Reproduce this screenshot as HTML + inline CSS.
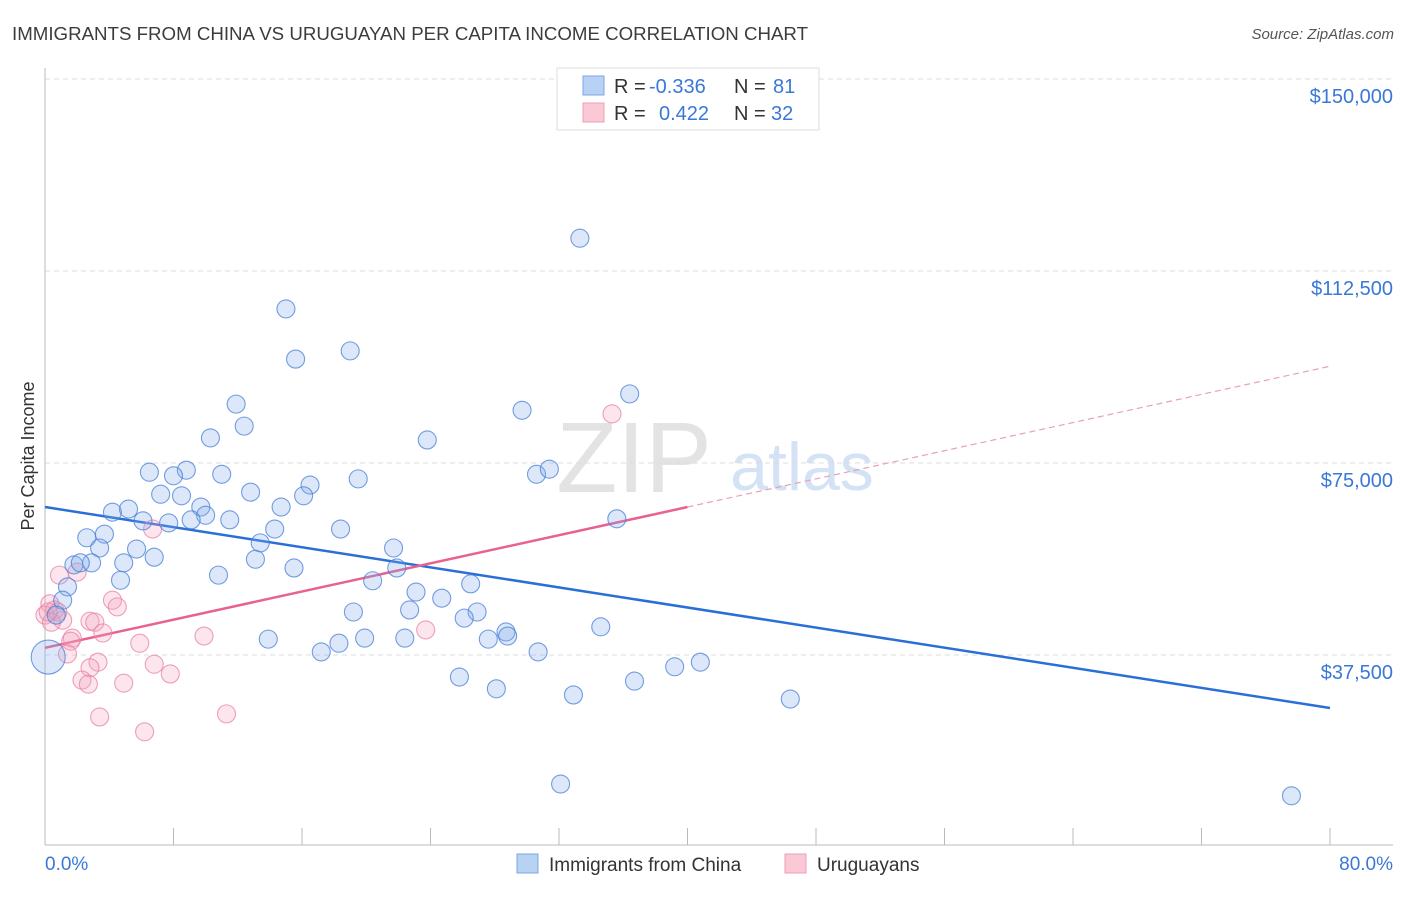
<!DOCTYPE html>
<html><head><meta charset="utf-8"><style>
body{margin:0;background:#fff;font-family:"Liberation Sans",sans-serif;}
svg text{font-family:"Liberation Sans",sans-serif;}
</style></head><body>
<svg id="chart" width="1406" height="892" xmlns="http://www.w3.org/2000/svg">
<text x="12" y="40" font-size="18" fill="#3c3c3c" textLength="796" lengthAdjust="spacingAndGlyphs">IMMIGRANTS FROM CHINA VS URUGUAYAN PER CAPITA INCOME CORRELATION CHART</text>
<text x="1394" y="39" font-size="15" fill="#555" font-style="italic" text-anchor="end">Source: ZipAtlas.com</text>
<text transform="translate(34,456) rotate(-90)" font-size="18" fill="#333" text-anchor="middle">Per Capita Income</text>
<g>
<text x="634" y="492" font-size="100" fill="#e3e3e3" font-family="Liberation Serif" text-anchor="middle">ZIP</text>
<text x="802" y="490" font-size="68" fill="#d3e2f5" text-anchor="middle">atlas</text>
</g>
<g id="grid"></g><g id="axes"></g><g id="trend"></g><g id="pts"></g>
<g>
<rect x="557" y="68" width="262" height="62" fill="#fff" stroke="#ddd"/>
<rect x="583" y="76" width="21" height="19" fill="#b8d2f4" stroke="#7aa7e6"/>
<rect x="583" y="103" width="21" height="19" fill="#fbc8d6" stroke="#ee9fb8"/>
<text x="614" y="93" font-size="20" fill="#333">R =</text>
<text x="649" y="93" font-size="20" fill="#3a78d8">-0.336</text>
<text x="734" y="93" font-size="20" fill="#333">N =</text>
<text x="773" y="93" font-size="20" fill="#3a78d8">81</text>
<text x="614" y="120" font-size="20" fill="#333">R =</text>
<text x="659" y="120" font-size="20" fill="#3a78d8">0.422</text>
<text x="734" y="120" font-size="20" fill="#333">N =</text>
<text x="771" y="120" font-size="20" fill="#3a78d8">32</text>
</g>
<g>
<rect x="517" y="854" width="21" height="19" fill="#b8d2f4" stroke="#7aa7e6"/>
<text x="549" y="871" font-size="19" fill="#333">Immigrants from China</text>
<rect x="785" y="854" width="21" height="19" fill="#fbc8d6" stroke="#ee9fb8"/>
<text x="817" y="871" font-size="19" fill="#333">Uruguayans</text>
</g>
</svg>
<script>
const yTicks=[37500,75000,112500,150000];
const yTickLabels=["$37,500","$75,000","$112,500","$150,000"];
const xTickLabels=["0.0%","80.0%"];
const chinaX=[33.3,15.0,15.6,19.0,36.4,11.9,29.7,10.3,12.4,23.8,6.5,8.8,8.0,11.0,19.5,30.6,31.4,16.5,7.2,8.5,12.8,16.1,9.7,10.0,14.7,4.2,5.2,6.1,7.7,9.1,11.5,18.4,14.3,35.6,2.6,3.7,13.4,3.4,5.7,6.8,21.7,13.1,1.8,2.9,2.2,4.9,15.5,21.9,10.8,4.7,20.4,26.5,1.4,23.1,24.7,1.1,19.2,22.7,26.9,26.1,34.6,28.7,13.9,18.3,19.9,22.4,27.6,28.8,17.2,30.7,40.8,39.2,25.8,36.7,28.1,32.9,46.4,32.1,77.6,0.7,0.2];
const chinaY=[118900,105100,95300,96900,88500,86500,85300,79900,82200,79500,73200,73600,72500,72800,71900,72800,73800,70700,68900,68600,69300,68600,66400,64800,66400,65400,66000,63700,63300,63900,63900,62100,62100,64100,60400,61100,59400,58400,58200,56600,58400,56200,55100,55500,55500,55500,54500,54500,53100,52100,52000,51400,50800,49800,48600,48200,45900,46300,45900,44700,43000,42000,40600,39800,40800,40800,40600,41200,38100,38100,36100,35200,33200,32400,30900,29700,28900,12300,10000,45300,37100];
const uruX=[35.3,6.7,0.9,2.0,0.3,0.6,0.0,1.1,0.4,4.2,4.5,2.8,3.1,3.6,1.7,1.6,5.9,9.9,23.7,1.4,3.3,2.8,6.8,7.8,2.3,2.7,4.9,3.4,11.3,6.2,0.8,0.2];
const uruY=[84600,62100,53100,53700,47500,46300,45300,44300,43900,48200,46900,44100,43900,41800,40800,40200,39800,41200,42400,37700,36100,35000,35700,33800,32600,31800,32000,25400,26000,22500,45900,45900];
const chinaTrend=[66400,27150];
const uruTrend=[38900,93900];
const uruSolidEnd=40;
const NS="http://www.w3.org/2000/svg";
const X0=45,X1=1330,YB=655,YPX=192;
const xs=v=>X0+v/80*(X1-X0);
const ys=v=>YB-(v-37500)/37500*YPX;
function mk(tag,attrs,parent){const e=document.createElementNS(NS,tag);for(const k in attrs)e.setAttribute(k,attrs[k]);parent.appendChild(e);return e;}
const grid=document.getElementById('grid'),axes=document.getElementById('axes'),trend=document.getElementById('trend'),pts=document.getElementById('pts');
yTicks.forEach((t,i)=>{
 const l=mk('line',{x1:45,x2:1393,y1:ys(t),y2:ys(t),stroke:'#dcdcdc','stroke-dasharray':'5,4'},grid);
 
 
 const tx=mk('text',{x:1393,y:ys(t)+24,'font-size':20,fill:'#3a78d8','text-anchor':'end'},grid);
 tx.textContent=yTickLabels[i];
 
 
});
const ya=mk('line',{x1:45,x2:45,y1:68,y2:845,stroke:'#bbb'},axes);


const xa=mk('line',{x1:45,x2:1393,y1:845,y2:845,stroke:'#bbb'},axes);


for(let i=1;i<=10;i++){
 const t=mk('line',{x1:xs(i*8),x2:xs(i*8),y1:828,y2:845,stroke:'#bbb'},axes);
 
 
}
const xl0=mk('text',{x:45,y:870,'font-size':19,fill:'#3a78d8'},axes);xl0.textContent=xTickLabels[0];


const xl1=mk('text',{x:1393,y:870,'font-size':19,fill:'#3a78d8','text-anchor':'end'},axes);xl1.textContent=xTickLabels[1];


function pt(x,y,r,fill,stroke,name){
 const c=mk('circle',{cx:xs(x),cy:ys(y),r:r,fill:fill,stroke:stroke,'stroke-width':1.1},pts);
 
 
}
uruX.forEach((x,i)=>pt(x,uruY[i],9,'rgba(246,160,188,0.28)','rgba(232,130,165,0.75)','point-uruguayans'));
chinaX.forEach((x,i)=>pt(x,chinaY[i],i===chinaX.length-1?17:9,'rgba(130,172,235,0.28)','rgba(70,125,215,0.75)','point-china'));
const ct=mk('line',{x1:xs(0),y1:ys(chinaTrend[0]),x2:xs(80),y2:ys(chinaTrend[1]),stroke:'#2a6fd8','stroke-width':2.5},trend);


const um=uruTrend[0]+(uruTrend[1]-uruTrend[0])*uruSolidEnd/80;
const ut=mk('line',{x1:xs(0),y1:ys(uruTrend[0]),x2:xs(uruSolidEnd),y2:ys(um),stroke:'#e8628f','stroke-width':2.5},trend);


const ud=mk('line',{x1:xs(uruSolidEnd),y1:ys(um),x2:xs(80),y2:ys(uruTrend[1]),stroke:'#e8a0b8','stroke-width':1.2,'stroke-dasharray':'6,4'},trend);


</script>
</body></html>
